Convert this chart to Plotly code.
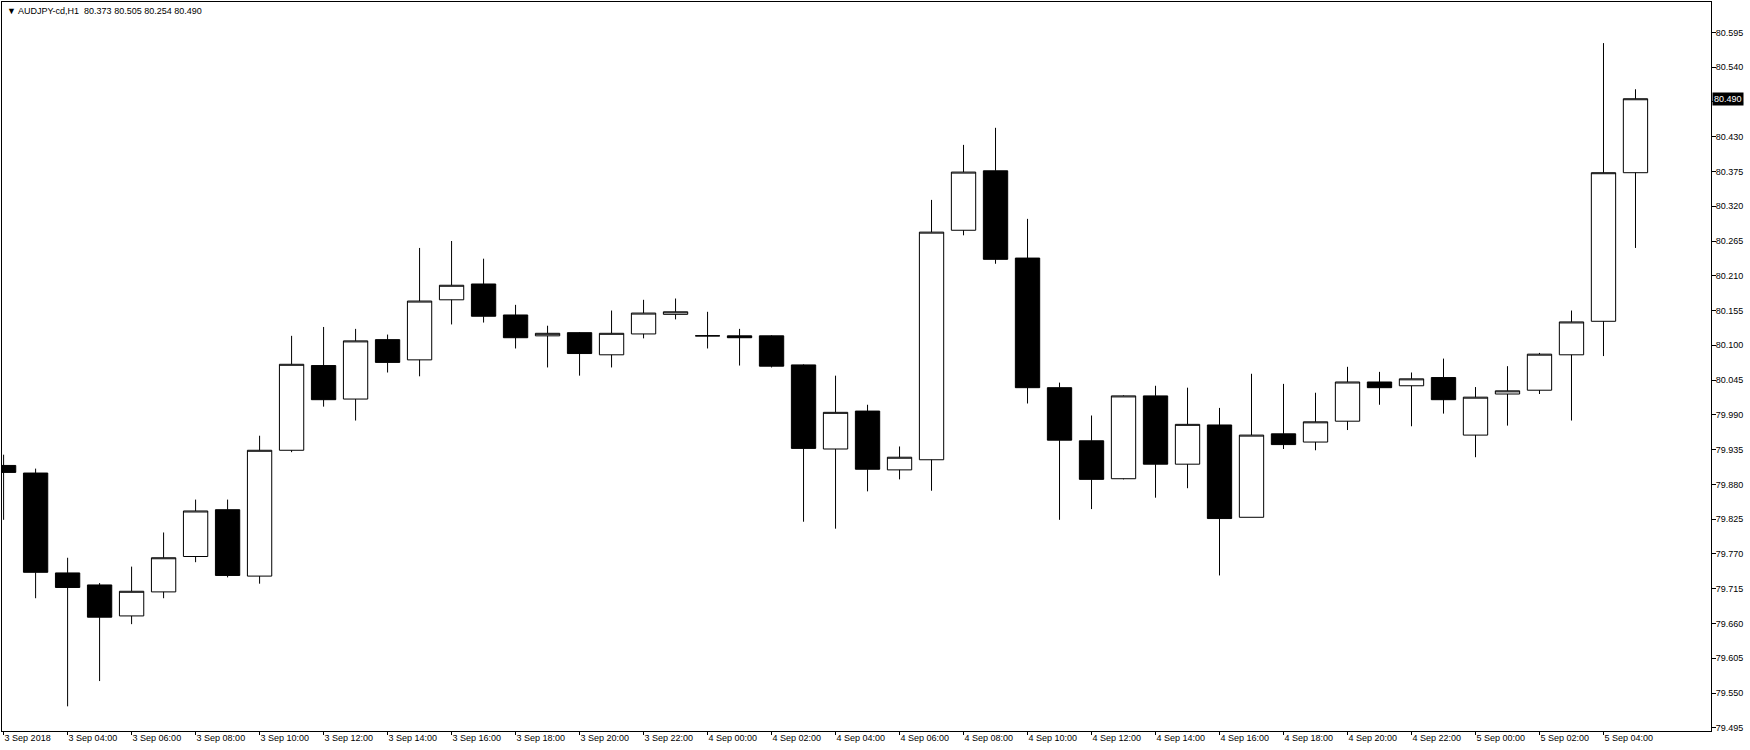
"""
AUDJPY H1 candlestick chart, MetaTrader style.
"""

import plotly.graph_objects as go

# hourly bars, 3 Sep 2018 02:00 .. 5 Sep 2018 05:00
opens = [
    79.910, 79.898, 79.740, 79.721, 79.672, 79.710, 79.766, 79.840, 79.735, 79.934,
    80.068, 80.015, 80.109, 80.077, 80.172, 80.197, 80.148, 80.115, 80.120, 80.085,
    80.118, 80.149, 80.115, 80.115, 80.115, 80.069, 79.936, 79.996, 79.903, 79.919,
    80.282, 80.376, 80.238, 80.033, 79.949, 79.889, 80.020, 79.912, 79.974, 79.828,
    79.960, 79.947, 79.980, 80.042, 80.036, 80.049, 79.958, 80.023, 80.029, 80.085,
    80.138, 80.373,
]
highs = [
    79.927, 79.905, 79.764, 79.724, 79.750, 79.804, 79.856, 79.856, 79.957, 80.115,
    80.129, 80.126, 80.117, 80.254, 80.265, 80.237, 80.164, 80.131, 80.121, 80.155,
    80.172, 80.174, 80.153, 80.126, 80.116, 80.070, 80.052, 80.006, 79.940, 80.330,
    80.417, 80.444, 80.300, 80.041, 79.989, 80.021, 80.036, 80.033, 80.001, 80.055,
    80.039, 80.025, 80.066, 80.058, 80.057, 80.079, 80.034, 80.067, 80.088, 80.155,
    80.578, 80.505,
]
lows = [
    79.824, 79.700, 79.529, 79.569, 79.659, 79.700, 79.757, 79.733, 79.723, 79.931,
    80.003, 79.981, 80.057, 80.051, 80.133, 80.136, 80.095, 80.065, 80.052, 80.065,
    80.111, 80.141, 80.095, 80.068, 80.065, 79.821, 79.810, 79.869, 79.888, 79.870,
    80.274, 80.229, 80.008, 79.824, 79.841, 79.888, 79.859, 79.874, 79.736, 79.828,
    79.936, 79.934, 79.966, 80.006, 79.972, 79.992, 79.923, 79.973, 80.023, 79.981,
    80.083, 80.254,
]
closes = [
    79.899, 79.741, 79.717, 79.670, 79.711, 79.764, 79.838, 79.736, 79.934, 80.070,
    80.014, 80.107, 80.073, 80.170, 80.195, 80.146, 80.112, 80.119, 80.087, 80.119,
    80.151, 80.153, 80.115, 80.112, 80.067, 79.937, 79.994, 79.904, 79.923, 80.279,
    80.374, 80.236, 80.033, 79.950, 79.888, 80.020, 79.912, 79.975, 79.826, 79.958,
    79.943, 79.979, 80.042, 80.033, 80.047, 80.014, 80.018, 80.028, 80.086, 80.137,
    80.373, 80.490,
]

time_labels = [
    "3 Sep 2018", "3 Sep 04:00", "3 Sep 06:00", "3 Sep 08:00", "3 Sep 10:00",
    "3 Sep 12:00", "3 Sep 14:00", "3 Sep 16:00", "3 Sep 18:00", "3 Sep 20:00",
    "3 Sep 22:00", "4 Sep 00:00", "4 Sep 02:00", "4 Sep 04:00", "4 Sep 06:00",
    "4 Sep 08:00", "4 Sep 10:00", "4 Sep 12:00", "4 Sep 14:00", "4 Sep 16:00",
    "4 Sep 18:00", "4 Sep 20:00", "4 Sep 22:00", "5 Sep 00:00", "5 Sep 02:00",
    "5 Sep 04:00",
]

price_ticks = [
    79.495, 79.550, 79.605, 79.660, 79.715, 79.770, 79.825, 79.880, 79.935, 79.990,
    80.045, 80.100, 80.155, 80.210, 80.265, 80.320, 80.375, 80.430, 80.485, 80.540,
    80.595,
]

symbol = "AUDJPY-cd,H1"
last_price = closes[-1]

bar_idx = list(range(len(opens)))
tick_idx = bar_idx[::2]

FONT = "Liberation Sans"
FSIZE = 9

fig = go.Figure(
    go.Candlestick(
        x=bar_idx,
        open=opens,
        high=highs,
        low=lows,
        close=closes,
        increasing=dict(fillcolor="white", line=dict(color="black", width=1)),
        decreasing=dict(fillcolor="black", line=dict(color="black", width=1)),
        whiskerwidth=0,
        hoverinfo="skip",
        showlegend=False,
    )
)

fig.update_layout(
    width=1750,
    height=750,
    margin=dict(l=2, r=39, t=2, b=19, autoexpand=False),
    paper_bgcolor="white",
    plot_bgcolor="white",
    font=dict(family=FONT, size=FSIZE, color="black"),
    boxgap=0.24,
    boxgroupgap=0,
    showlegend=False,
)

fig.update_xaxes(
    range=[-0.05, 53.36],
    tickvals=tick_idx,
    ticktext=time_labels,
    ticks="outside",
    ticklen=3,
    tickcolor="black",
    ticklabelposition="outside right",
    ticklabelstandoff=-2,
    showgrid=False,
    zeroline=False,
    showline=True,
    linecolor="black",
    linewidth=1,
    mirror=True,
    automargin=False,
    rangeslider=dict(visible=False),
    tickfont=dict(family=FONT, size=FSIZE),
)

fig.update_yaxes(
    range=[79.490, 80.643],
    side="right",
    tickvals=price_ticks,
    ticktext=[f"{v:.3f}" for v in price_ticks],
    ticks="outside",
    ticklen=4,
    tickcolor="black",
    ticklabelstandoff=-2,
    showgrid=False,
    zeroline=False,
    showline=True,
    linecolor="black",
    linewidth=1,
    mirror=True,
    automargin=False,
    tickfont=dict(family=FONT, size=FSIZE),
)

# chart header
fig.add_annotation(
    text=f"\u25bc {symbol}  {opens[-1]:.3f} {highs[-1]:.3f} {lows[-1]:.3f} {closes[-1]:.3f}",
    xref="paper", yref="paper", x=0.002, y=0.997,
    xanchor="left", yanchor="top", showarrow=False,
    font=dict(family=FONT, size=FSIZE, color="black"),
)

# current price marker on the price scale
fig.add_annotation(
    text=f"{last_price:.3f}",
    xref="paper", yref="y", x=1.0, y=last_price,
    xanchor="left", yanchor="middle", showarrow=False,
    bgcolor="black", borderpad=1, xshift=1,
    font=dict(family=FONT, size=FSIZE, color="white"),
)

# the page body has a default margin; drop it so the figure fills the window
fig.write_html(
    "out.html",
    config={"displayModeBar": False},
    post_script="document.body.style.margin = '0';",
)
